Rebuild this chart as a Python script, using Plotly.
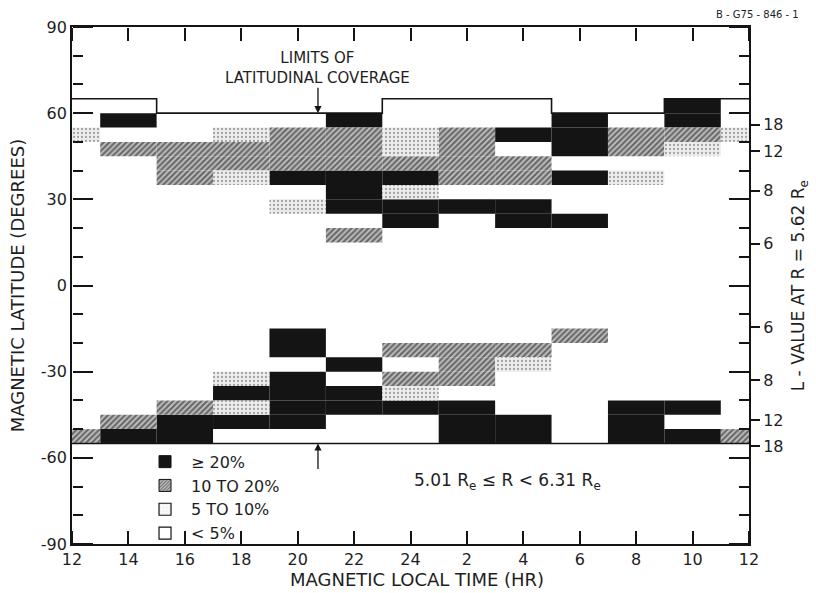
import numpy as np
import plotly.graph_objects as go

# ---------------- data ----------------
MLT_TICKVALS = [12, 14, 16, 18, 20, 22, 24, 26, 28, 30, 32, 34, 36]
MLT_TICKTEXT = ["12", "14", "16", "18", "20", "22", "24", "2", "4", "6", "8", "10", "12"]
LAT_TICKS = [-90, -60, -30, 0, 30, 60, 90]
LAT_TICKTEXT = ["-90", "-60", "-30", "0", "30", "60", "90"]
L_VALUES = [6, 8, 12, 18]
R_REF = 5.62

# cells: MLT bin centre (hr, 2-hr bins; 12 = the 11-13 bin that wraps) and lower latitude edge (5 deg bins)
BLACK_MLT = [14, 20, 22, 22, 22, 22, 24, 24, 24, 2, 4, 4, 4, 6, 6, 6, 6, 6, 10, 10,
             14, 16, 16, 18, 18, 20, 20, 20, 20, 20, 20, 22, 22, 22, 24, 2, 2, 2, 4, 4, 8, 8, 8, 10, 10]
BLACK_LAT = [55, 35, 55, 35, 30, 25, 35, 25, 20, 25, 50, 25, 20, 55, 50, 45, 35, 20, 60, 55,
             -55, -50, -55, -40, -50, -20, -25, -35, -40, -45, -50, -30, -40, -45, -45, -45, -50, -55, -50, -55, -45, -50, -55, -45, -55]

HATCH_MLT = [14, 16, 16, 16, 18, 18, 20, 20, 20, 22, 22, 22, 22, 24, 2, 2, 2, 2, 4, 4, 8, 8, 10,
             12, 14, 16, 24, 24, 2, 2, 2, 4, 6]
HATCH_LAT = [45, 45, 40, 35, 45, 40, 50, 45, 40, 50, 45, 40, 15, 40, 50, 45, 40, 35, 40, 35, 50, 45, 50,
             -55, -50, -45, -25, -35, -25, -30, -35, -25, -20]

SPECK_MLT = [12, 18, 18, 20, 24, 24, 24, 8, 10,
             18, 18, 24, 4]
SPECK_LAT = [50, 50, 35, 25, 50, 45, 30, 35, 45,
             -35, -45, -40, -30]

COVER_TOP_MLT = [12, 15, 23, 5, 9, 12]
COVER_TOP_LAT = [65, 60, 65, 60, 65, 65]
COVER_BOT_MLT = [12, 12]
COVER_BOT_LAT = [-55, -55]

ARROW_MLT = 20.72

BIN_HR = 2.0
BIN_LAT = 5.0

FONT = "DejaVu Sans, Verdana, sans-serif"
INK = "#141414"


def unroll(seq):
    out, off = [], 0
    for i, v in enumerate(seq):
        if i > 0 and v + off <= out[-1]:
            off += 24
        out.append(v + off)
    return out


def pieces(mlts, lats):
    xs, ws, bases, hs = [], [], [], []
    for c, lo in zip(mlts, lats):
        if c == 12:
            segs = [(12 + BIN_HR / 4, BIN_HR / 2), (36 - BIN_HR / 4, BIN_HR / 2)]
        else:
            segs = [(c if c > 12 else c + 24, BIN_HR)]
        for xc, w in segs:
            xs.append(xc)
            ws.append(w)
            bases.append(lo)
            hs.append(BIN_LAT)
    return xs, ws, bases, hs


HATCH_PAT = dict(shape="/", fgcolor="#0e0e0e", bgcolor="#c4c4c4", size=4, solidity=0.55)
SPECK_PAT = dict(shape=".", fgcolor="#555555", bgcolor="#ededed", size=4, solidity=0.25)

fig = go.Figure()

styles = {
    "black": dict(color=INK),
    "hatch": dict(color="white", pattern=HATCH_PAT),
    "speck": dict(color="white", pattern=SPECK_PAT),
}

for key, (m, l) in {"black": (BLACK_MLT, BLACK_LAT), "hatch": (HATCH_MLT, HATCH_LAT),
                    "speck": (SPECK_MLT, SPECK_LAT)}.items():
    xs, ws, bases, hs = pieces(m, l)
    fig.add_trace(go.Bar(x=xs, y=hs, base=bases, width=ws,
                         marker=dict(line=dict(width=0), **styles[key]),
                         showlegend=False, hoverinfo="skip"))

# coverage limits
top_x = unroll(COVER_TOP_MLT)
bot_x = unroll(COVER_BOT_MLT)
fig.add_trace(go.Scatter(x=top_x, y=COVER_TOP_LAT, mode="lines",
                         line=dict(color=INK, width=1.6, shape="hv"), showlegend=False, hoverinfo="skip"))
fig.add_trace(go.Scatter(x=bot_x, y=COVER_BOT_LAT, mode="lines",
                         line=dict(color=INK, width=1.6), showlegend=False, hoverinfo="skip"))

# legend proxies
legend_items = [
    ("\u2265 20%", dict(color=INK, line=dict(color=INK, width=1))),
    ("10 TO 20%", dict(color="white", line=dict(color=INK, width=1),
                        pattern=dict(shape="/", fgcolor="#111", bgcolor="#c8c8c8", size=3, solidity=0.5))),
    ("5 TO 10%", dict(color="white", line=dict(color=INK, width=1.2),
                       pattern=dict(shape=".", fgcolor="#aaa", bgcolor="#fafafa", size=4, solidity=0.1))),
    ("< 5%", dict(color="white", line=dict(color=INK, width=1.2))),
]
for name, mk in legend_items:
    fig.add_trace(go.Bar(x=[None], y=[None], name=name, marker=mk, hoverinfo="skip"))

# L-value scale (second, co-located subplot with only a right axis)
l_lat = [float(np.degrees(np.arccos(np.sqrt(R_REF / L)))) for L in L_VALUES]
r_vals = l_lat + [-v for v in l_lat]
r_text = [str(L) for L in L_VALUES] * 2
fig.add_trace(go.Scatter(x=[None], y=[None], xaxis="x2", yaxis="y2", showlegend=False, hoverinfo="skip"))
# helper axes carrying the inward-pointing frame ticks
fig.add_trace(go.Scatter(x=[None], y=[None], xaxis="x3", yaxis="y3", showlegend=False, hoverinfo="skip"))
fig.add_trace(go.Scatter(x=[None], y=[None], xaxis="x4", yaxis="y4", showlegend=False, hoverinfo="skip"))


def ann(text, x, y, size=18, **kw):
    d = dict(text=text, xref="paper", yref="paper", x=x, y=y, showarrow=False,
             xanchor="center", yanchor="middle", font=dict(size=size))
    d.update(kw)
    return d


def frame_y(position, side):
    return dict(range=[-90, 90], overlaying="y", anchor="free", position=position, side=side,
                tickmode="array", tickvals=LAT_TICKS, ticks="outside", ticklen=20,
                tickwidth=1.5, tickcolor=INK, showticklabels=False,
                minor=dict(tickmode="linear", tick0=0, dtick=10, ticks="outside", ticklen=10,
                           tickwidth=1.5, tickcolor=INK, showgrid=False),
                showline=False, showgrid=False, zeroline=False, fixedrange=True)


def frame_x(position, side):
    return dict(range=[12, 36], overlaying="x", anchor="free", position=position, side=side,
                tickmode="array", tickvals=MLT_TICKVALS, ticks="outside", ticklen=13,
                tickwidth=1.5, tickcolor=INK, showticklabels=False,
                showline=False, showgrid=False, zeroline=False, fixedrange=True)


fig.update_layout(
    width=816, height=593,
    margin=dict(l=72, r=67, t=27, b=49),
    paper_bgcolor="white", plot_bgcolor="rgba(0,0,0,0)",
    barmode="overlay",
    font=dict(family=FONT, size=16, color="#1e1e1e"),
    xaxis=dict(domain=[0, 1], range=[12, 36], tickvals=MLT_TICKVALS, ticktext=MLT_TICKTEXT,
               ticks="", showline=True, linecolor=INK, linewidth=1.8, mirror=True,
               showgrid=False, zeroline=False, fixedrange=True),
    yaxis=dict(domain=[0, 1], range=[-90, 90], tickmode="array", tickvals=LAT_TICKS, ticktext=LAT_TICKTEXT,
               ticks="", showline=True, linecolor=INK, linewidth=1.8, mirror=True,
               showgrid=False, zeroline=False, fixedrange=True),
    xaxis2=dict(domain=[0, 1], range=[12, 36], anchor="y2", visible=False, fixedrange=True),
    yaxis2=dict(domain=[0, 1], range=[-90, 90], anchor="x2", side="right",
                tickvals=r_vals, ticktext=r_text, ticks="outside", ticklen=10,
                tickwidth=1.5, tickcolor=INK, showline=False, showgrid=False,
                zeroline=False, fixedrange=True),
    xaxis3=frame_x(0, "top"),
    xaxis4=frame_x(1, "bottom"),
    yaxis3=frame_y(0, "right"),
    yaxis4=frame_y(1, "left"),
    legend=dict(x=0.099, y=0.192, xanchor="left", yanchor="top",
                bgcolor="rgba(0,0,0,0)", font=dict(size=16), itemwidth=42,
                tracegroupgap=0, traceorder="normal"),
    annotations=[
        ann("MAGNETIC LATITUDE (DEGREES)", -0.08, 0.5, textangle=-90),
        ann("MAGNETIC LOCAL TIME (HR)", 0.51, -0.0696),
        ann("L - VALUE AT R = 5.62 R<sub>e</sub>", 1.075, 0.5, textangle=-90, size=17),
        dict(text="LIMITS OF<br>LATITUDINAL COVERAGE", x=ARROW_MLT, y=COVER_TOP_LAT[1],
             xref="x", yref="y", showarrow=True, ax=0, ay=-45, font=dict(size=15),
             arrowhead=2, arrowsize=1.1, arrowwidth=1.3, arrowcolor=INK, standoff=0,
             borderpad=0),
        dict(text="", x=ARROW_MLT, y=COVER_BOT_LAT[0], xref="x", yref="y", showarrow=True,
             ax=0, ay=27, arrowhead=2, arrowsize=1.1, arrowwidth=1.3, arrowcolor=INK),
        ann("5.01 R<sub>e</sub> \u2264 R < 6.31 R<sub>e</sub>", 0.644, 0.12, size=17),
        ann("B - G75 - 846 - 1", 1.013, 1.025, size=10),
    ],
)

fig.write_html("out.html")
